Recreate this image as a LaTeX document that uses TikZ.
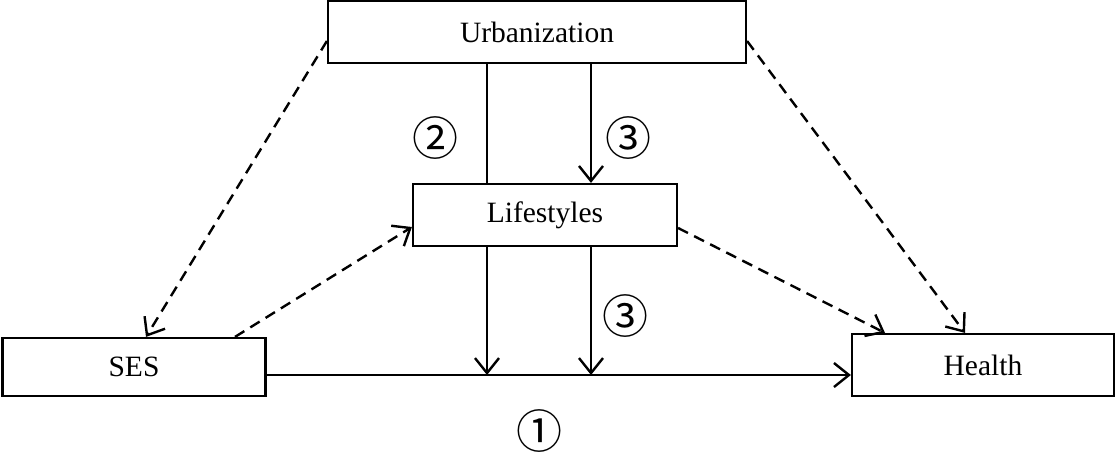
\documentclass[tikz,border=0pt]{standalone}
\usepackage{fontspec}
\setmainfont{Liberation Serif}
\newfontfamily\circfont{Noto Sans CJK SC}
\usetikzlibrary{arrows.meta}
\begin{document}
\begin{tikzpicture}[x=1pt,y=-1pt,
  box/.style={draw,line width=2.2pt,rectangle,inner sep=0pt,font=\fontsize{29.5}{33}\selectfont},
  conn/.style={line width=2.4pt},
  dconn/.style={line width=2.4pt,dash pattern=on 11pt off 7pt},
  >={Straight Barb[length=15pt,width=24pt,line width=2.4pt]},
  circ/.style={font=\circfont\fontsize{46}{50}\selectfont,inner sep=0pt}]
\useasboundingbox (0,0) rectangle (1116,453);
\node[box,minimum width=418pt,minimum height=62pt] (urb) at (537,32) {Urbanization};
\node[box,minimum width=264pt,minimum height=62pt] (life) at (545,215) {Lifestyles};
\node[box,minimum width=263pt,minimum height=58pt] (ses) at (134,367) {SES};
\node[box,minimum width=262pt,minimum height=62pt] (health) at (983,365) {Health};
\coordinate (c1) at (487,0);
\coordinate (c2) at (591,0);
\coordinate (m) at (0,375);
\draw[conn] (urb.south -| c1) -- (life.north -| c1);
\draw[conn,->] (urb.south -| c2) -- (life.north -| c2);
\draw[conn,->] (life.south -| c1) -- (c1 |- m);
\draw[conn,->] (life.south -| c2) -- (c2 |- m);
\draw[conn,->] (ses.east |- m) -- (health.west |- m);
\draw[dconn,->] ([yshift=-9pt]urb.west) -- ([xshift=12pt]ses.north);
\draw[dconn,->] ([xshift=101pt]ses.north) -- ([yshift=-12pt]life.west);
\draw[dconn,->] ([yshift=-13pt]life.east) -- ([xshift=-98pt]health.north);
\draw[dconn,->] ([yshift=-9pt]urb.east) -- ([xshift=-18pt]health.north);
\node[circ] (n2) at (435,138) {②};
\node[circ] (n3a) at (628,138) {③};
\node[circ] (n3b) at (625,316) {③};
\node[circ] (n1) at (539,431) {①};
\end{tikzpicture}
\end{document}
